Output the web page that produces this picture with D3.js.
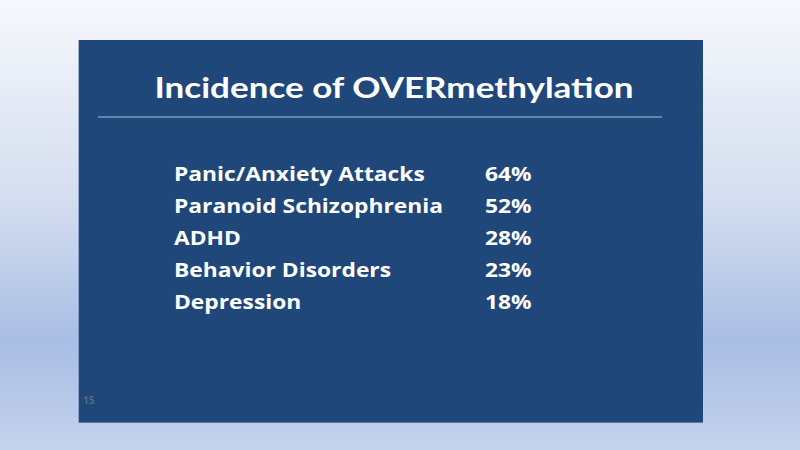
<!DOCTYPE html>
<html>
<head>
<meta charset="utf-8">
<script src="https://d3js.org/d3.v7.min.js"></script>
<style>
  html, body { margin: 0; padding: 0; }
  body { width: 800px; height: 450px; overflow: hidden; }
</style>
</head>
<body>
<svg id="slide" width="800" height="450"></svg>
<script>
// Slide data
const title = "Incidence of OVERmethylation";
const conditions = ["Panic/Anxiety Attacks", "Paranoid Schizophrenia", "ADHD", "Behavior Disorders", "Depression"];
const incidence = [64, 52, 28, 23, 18];
const pageNumber = "15";

const W = 800, H = 450;
const svg = d3.select("#slide");
const defs = svg.append("defs");

// page background gradient
const bg = defs.append("linearGradient")
    .attr("id", "bg-grad")
    .attr("x1", 0).attr("y1", 0).attr("x2", 0).attr("y2", 1);
bg.append("stop").attr("offset", "0%").attr("stop-color", "#f6f8fc");
bg.append("stop").attr("offset", "45%").attr("stop-color", "#d3ddef");
bg.append("stop").attr("offset", "76%").attr("stop-color", "#a9bee4");
bg.append("stop").attr("offset", "100%").attr("stop-color", "#c4d2ec");

svg.append("rect")
    .attr("width", W).attr("height", H)
    .attr("fill", "url(#bg-grad)");

// slide panel
const panel = {x: 79, y: 40, w: 624, h: 382};
svg.append("rect")
    .attr("x", panel.x - 0.5).attr("y", panel.y)
    .attr("width", panel.w + 0.5).attr("height", panel.h + 1)
    .attr("fill", "#5d7bab");
svg.append("rect")
    .attr("x", panel.x).attr("y", panel.y)
    .attr("width", panel.w).attr("height", panel.h)
    .attr("fill", "#1f477a");

// title
svg.append("text")
    .attr("x", 394)
    .attr("y", 98)
    .attr("text-anchor", "middle")
    .attr("fill", "#ffffff")
    .attr("font-family", "Lato, 'Open Sans', sans-serif")
    .attr("font-weight", "bold")
    .attr("font-size", 28)
    .attr("textLength", 479)
    .attr("lengthAdjust", "spacingAndGlyphs")
    .text(title);

// rule under the title
svg.append("line")
    .attr("x1", 98).attr("x2", 662)
    .attr("y1", 117).attr("y2", 117)
    .attr("stroke", "#7d98bd")
    .attr("stroke-width", 1.5);

// rows
const y = d3.scaleBand()
    .domain(conditions)
    .range([158, 318])
    .padding(0);

const fmt = d => d3.format("d")(d) + "%";

const rows = svg.append("g").selectAll("g")
    .data(conditions.map((c, i) => ({name: c, value: incidence[i]})))
    .join("g")
    .attr("transform", d => `translate(0,${y(d.name) + y.bandwidth() / 2 + 7})`);

const labels = rows.append("text")
    .attr("x", 174)
    .attr("fill", "#ffffff")
    .attr("font-family", "'Open Sans', Lato, sans-serif")
    .attr("font-weight", "bold")
    .attr("font-size", 19.5)
    .text(d => d.name);

const values = rows.append("text")
    .attr("x", 485)
    .attr("fill", "#ffffff")
    .attr("font-family", "'Open Sans', Lato, sans-serif")
    .attr("font-weight", "bold")
    .attr("font-size", 19.5)
    .text(d => fmt(d.value));

// the slide text is a bit wider than the font, stretch it to match
const widest = d3.max(labels.nodes(), n => n.getComputedTextLength());
const stretch = 269 / widest;
labels.each(function() {
    d3.select(this)
        .attr("textLength", this.getComputedTextLength() * stretch)
        .attr("lengthAdjust", "spacingAndGlyphs");
});
values.each(function() {
    d3.select(this)
        .attr("textLength", this.getComputedTextLength() * stretch)
        .attr("lengthAdjust", "spacingAndGlyphs");
});

// page number
svg.append("text")
    .attr("x", 83)
    .attr("y", 404)
    .attr("fill", "#56698a")
    .attr("font-family", "'Open Sans', sans-serif")
    .attr("font-weight", "bold")
    .attr("font-size", 10)
    .text(pageNumber);
</script>
</body>
</html>
